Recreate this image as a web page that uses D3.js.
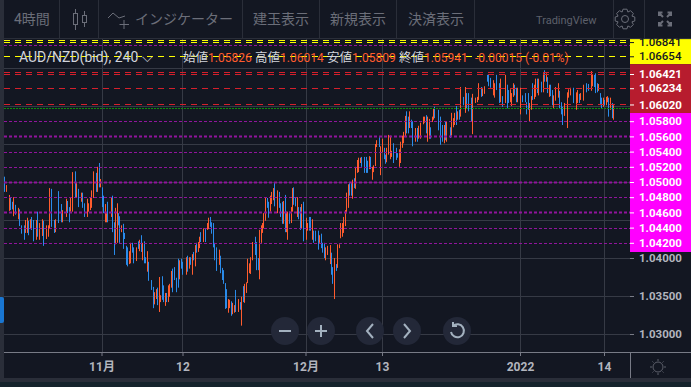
<!DOCTYPE html>
<html>
<head>
<meta charset="utf-8">
<style>
body { margin: 0; background: #15232c; }
text { font-family: Roboto, "Noto Sans CJK JP", sans-serif; }
</style>
</head>
<body>
<svg id="chart" width="691" height="387" style="display:block"></svg>

<script src="https://d3js.org/d3.v7.min.js"></script>
<script>
// 4h session number of each candle, prices are x 10000
let bars = [0,1,3,4,5,6,7,9,10,11,13,14,15,16,17,18,19,21,22,23,
25,26,28,29,30,31,33,34,36,38,39,41,42,43,44,45,47,48,49,51,
52,53,55,56,57,58,59,61,62,63,64,65,66,67,68,69,71,72,73,74,
75,76,77,78,79,80,81,82,83,84,85,86,88,89,90,91,92,93,94,95,
96,98,99,100,101,102,103,104,105,106,107,108,109,110,111,112,113,115,116,117,
118,119,121,122,123,124,125,126,127,128,129,130,131,133,134,135,136,137,138,139,
140,141,143,144,145,146,147,148,149,150,151,152,153,154,156,157,158,159,160,161,
162,163,164,165,167,168,169,170,171,172,173,174,175,176,177,178,179,180,182,183,
184,185,186,187,188,189,190,191,192,193,194,195,196,197,198,199,201,202,203,204,
205,206,207,209,210,211,212,213,214,215,217,218,219,220,221,222,223,224,225,226,
227,228,229,230,231,232,233,234,235,236,237,238,240,241,242,243,244,245,246,247,
248,250,251,252,253,254,255,256,257,258,259,261,262,263,264,265,266,267,268,269,
270,271,272,274,275,276,277,279,280,281,282,283,284,285,286,287,289,291,292,293,
294,295,297,298,299,300,301,302,303,304,306,307,308,309,311,312,314,315,316,318,
319,320,322,323,324,326,327,328,330,331,332,334,335,336,337,338,339,340,341,342,
344,345,347,348,349,350,351,352,353,354,355,356,358,359,360,361,362,363,364,365,
366,367,369,370,371,372,373,375,376,377,379,381,382,383,384,386,388,389,391,392,
393,394,395,396,397,398,399,400,401,402,403,404,405,406]

let highs = [10507,10496,10483,10479,10474,10480,10470,10466,10464,10443,10443,10450,10453,10449,10451,10454,10450,10450,10461,10446,
10451,10449,10443,10443,10492,10491,10450,10451,10488,10471,10463,10478,10475,10467,10479,10513,10514,10500,10491,10486,
10486,10472,10478,10472,10480,10489,10514,10512,10520,10525,10504,10493,10482,10471,10459,10474,10479,10482,10447,10466,
10472,10459,10455,10443,10445,10433,10416,10414,10409,10420,10420,10414,10414,10422,10424,10430,10420,10422,10401,10409,
10395,10371,10362,10355,10359,10361,10375,10351,10376,10364,10354,10354,10364,10366,10383,10386,10388,10374,10399,10397,
10399,10395,10401,10403,10401,10401,10405,10408,10417,10420,10421,10428,10434,10439,10438,10446,10453,10454,10447,10446,
10420,10414,10411,10403,10387,10384,10367,10359,10346,10345,10343,10341,10338,10358,10346,10342,10349,10363,10366,10368,
10399,10393,10401,10421,10428,10421,10400,10437,10443,10446,10459,10480,10479,10474,10482,10487,10492,10499,10489,10487,
10472,10474,10475,10483,10461,10461,10461,10467,10492,10493,10480,10480,10467,10467,10471,10474,10453,10446,10454,10454,
10451,10436,10436,10436,10430,10432,10420,10420,10414,10416,10417,10407,10388,10400,10392,10418,10418,10446,10446,10454,
10463,10486,10497,10499,10499,10503,10505,10520,10529,10532,10532,10533,10533,10533,10528,10534,10533,10520,10522,10550,
10555,10559,10547,10557,10545,10536,10545,10562,10561,10541,10551,10545,10538,10543,10553,10561,10566,10587,10593,10586,
10593,10582,10580,10571,10571,10574,10578,10586,10586,10588,10586,10583,10572,10586,10597,10599,10595,10586,10575,10575,
10579,10579,10572,10591,10584,10591,10600,10593,10595,10625,10612,10625,10617,10617,10611,10616,10611,10612,10630,10625,
10624,10626,10641,10641,10637,10634,10630,10641,10630,10636,10613,10641,10628,10621,10622,10617,10630,10628,10624,10624,
10624,10614,10617,10605,10617,10604,10613,10630,10628,10636,10636,10636,10632,10643,10647,10643,10638,10628,10628,10621,
10614,10625,10630,10620,10605,10599,10604,10618,10622,10624,10624,10618,10621,10616,10617,10628,10630,10629,10646,10641,
10641,10643,10630,10629,10617,10611,10611,10608,10612,10613,10611,10611,10604,10601]

let lows = [10487,10487,10462,10463,10464,10455,10457,10451,10442,10432,10424,10433,10433,10430,10438,10437,10422,10424,10428,10424,
10429,10416,10425,10428,10439,10441,10433,10434,10446,10447,10447,10454,10459,10447,10461,10461,10479,10480,10467,10474,
10466,10454,10454,10461,10463,10466,10479,10487,10487,10493,10493,10467,10459,10447,10447,10447,10454,10434,10404,10418,
10420,10443,10420,10434,10412,10425,10391,10389,10392,10393,10407,10393,10396,10412,10409,10408,10397,10393,10393,10382,
10370,10358,10334,10339,10346,10338,10329,10342,10345,10342,10337,10342,10342,10349,10361,10355,10371,10355,10361,10372,
10386,10378,10378,10382,10386,10391,10378,10397,10389,10407,10408,10413,10421,10421,10421,10437,10438,10441,10432,10414,
10397,10383,10391,10380,10371,10366,10333,10334,10328,10334,10324,10326,10328,10329,10329,10332,10311,10342,10341,10354,
10367,10380,10379,10397,10404,10384,10384,10372,10420,10433,10439,10449,10466,10453,10461,10471,10476,10468,10459,10466,
10454,10445,10445,10434,10434,10424,10445,10446,10461,10470,10468,10454,10451,10437,10439,10422,10424,10436,10436,10436,
10424,10420,10422,10411,10420,10413,10407,10400,10397,10404,10392,10378,10366,10346,10383,10387,10413,10426,10428,10433,
10442,10459,10466,10482,10482,10478,10492,10491,10512,10513,10525,10520,10512,10512,10512,10517,10517,10503,10513,10521,
10546,10546,10509,10539,10530,10524,10526,10536,10530,10533,10525,10529,10532,10520,10525,10545,10551,10559,10564,10564,
10571,10571,10547,10553,10553,10557,10557,10576,10578,10564,10553,10557,10557,10579,10582,10584,10568,10549,10553,10551,
10555,10553,10558,10561,10572,10575,10575,10582,10582,10586,10601,10591,10597,10593,10580,10563,10604,10605,10608,10612,
10613,10616,10632,10626,10624,10614,10611,10621,10604,10605,10599,10604,10597,10604,10605,10600,10612,10614,10605,10605,
10589,10605,10605,10589,10595,10579,10595,10608,10609,10612,10617,10614,10618,10618,10632,10632,10617,10612,10613,10601,
10597,10607,10611,10597,10589,10575,10587,10571,10611,10614,10604,10595,10604,10604,10608,10607,10618,10620,10620,10626,
10625,10617,10618,10620,10601,10597,10599,10601,10601,10605,10586,10595,10584,10582]

let opens = [10488,10495,10480,10464,10466,10475,10459,10464,10445,10434,10429,10447,10451,10433,10450,10439,10424,10446,10433,10441,
10447,10425,10441,10439,10491,10446,10436,10449,10449,10450,10462,10463,10461,10449,10476,10509,10482,10497,10472,10484,
10468,10457,10471,10470,10472,10487,10511,10495,10517,10497,10503,10470,10462,10468,10458,10450,10476,10437,10410,10463,
10470,10445,10424,10442,10420,10426,10393,10392,10407,10416,10408,10396,10412,10413,10421,10409,10418,10405,10395,10407,
10372,10359,10336,10353,10357,10341,10372,10350,10349,10345,10351,10343,10362,10363,10380,10358,10374,10358,10368,10395,
10387,10380,10399,10384,10399,10392,10403,10399,10414,10408,10418,10425,10424,10437,10424,10445,10451,10442,10434,10418,
10399,10386,10408,10382,10372,10367,10336,10336,10345,10343,10326,10339,10337,10332,10345,10334,10345,10343,10362,10366,
10397,10392,10399,10420,10408,10405,10386,10433,10441,10445,10458,10479,10467,10455,10480,10484,10491,10471,10487,10468,
10457,10447,10472,10437,10459,10459,10447,10464,10489,10472,10470,10479,10453,10439,10468,10425,10450,10445,10439,10438,
10450,10422,10424,10413,10429,10416,10408,10401,10413,10414,10414,10380,10367,10397,10384,10414,10417,10443,10443,10451,
10462,10484,10495,10483,10484,10500,10493,10514,10528,10530,10530,10521,10514,10513,10514,10532,10518,10518,10521,10547,
10553,10547,10545,10555,10532,10526,10543,10559,10559,10539,10530,10530,10533,10542,10550,10559,10564,10584,10566,10566,
10591,10572,10550,10568,10555,10571,10575,10584,10584,10570,10584,10580,10559,10584,10595,10586,10575,10555,10555,10572,
10557,10576,10559,10588,10583,10588,10578,10592,10583,10622,10603,10621,10600,10597,10584,10613,10609,10611,10628,10613,
10622,10625,10633,10628,10625,10633,10628,10624,10608,10633,10600,10639,10600,10605,10620,10614,10628,10616,10608,10621,
10620,10607,10607,10592,10597,10601,10611,10611,10625,10632,10620,10633,10620,10639,10633,10641,10620,10625,10614,10604,
10612,10622,10628,10600,10591,10579,10601,10616,10621,10622,10607,10616,10618,10605,10616,10625,10620,10621,10643,10639,
10626,10621,10620,10628,10603,10599,10609,10603,10611,10612,10588,10609,10587,10599]

let closes = [10505,10488,10464,10478,10472,10458,10467,10453,10462,10442,10441,10434,10436,10446,10441,10451,10447,10426,10455,10428,
10433,10445,10428,10432,10445,10489,10447,10437,10471,10464,10450,10455,10472,10462,10463,10463,10511,10483,10486,10475,
10482,10470,10458,10463,10466,10471,10487,10509,10500,10522,10496,10491,10479,10450,10449,10472,10458,10479,10445,10420,
10440,10457,10450,10436,10442,10432,10413,10411,10395,10396,10418,10412,10399,10421,10411,10425,10400,10420,10400,10387,
10393,10370,10359,10342,10349,10358,10333,10343,10372,10361,10339,10353,10346,10353,10363,10383,10386,10371,10397,10375,
10397,10392,10382,10400,10388,10400,10383,10407,10395,10418,10411,10416,10432,10424,10436,10438,10439,10453,10445,10443,
10418,10408,10395,10400,10386,10382,10364,10357,10330,10336,10341,10329,10329,10351,10332,10341,10330,10361,10345,10355,
10370,10382,10383,10400,10426,10420,10399,10400,10424,10434,10441,10451,10478,10471,10463,10472,10479,10495,10463,10484,
10470,10472,10449,10480,10437,10433,10459,10449,10463,10491,10479,10457,10466,10464,10441,10468,10437,10437,10451,10453,
10430,10434,10434,10433,10421,10429,10418,10418,10400,10405,10395,10404,10386,10375,10391,10392,10414,10429,10430,10436,
10445,10462,10470,10497,10496,10480,10504,10493,10514,10514,10526,10532,10532,10530,10526,10518,10530,10505,10514,10522,
10547,10557,10534,10541,10543,10533,10529,10539,10533,10534,10549,10543,10537,10524,10529,10546,10553,10561,10589,10575,
10572,10580,10578,10555,10568,10559,10560,10578,10579,10586,10566,10560,10571,10580,10583,10597,10592,10580,10572,10553,
10576,10555,10571,10564,10574,10576,10597,10583,10592,10590,10611,10595,10614,10614,10608,10579,10605,10607,10611,10624,
10614,10618,10639,10639,10636,10617,10613,10637,10628,10608,10612,10608,10625,10618,10607,10603,10613,10626,10621,10608,
10604,10613,10614,10604,10614,10583,10597,10628,10611,10614,10633,10617,10630,10620,10643,10633,10636,10613,10625,10618,
10600,10609,10613,10617,10604,10596,10589,10587,10613,10616,10621,10604,10605,10613,10609,10609,10629,10628,10622,10628,
10639,10639,10629,10621,10616,10609,10600,10607,10603,10607,10609,10597,10601,10584]

let timeTickBars = [65,119,201,252,344,400]
let timeTickLabels = ["11月","12","12月","13","2022","14"]
let gridPrices = [1.03,1.035,1.04,1.045,1.05,1.055,1.06,1.065]
let yellowLevels = [1.06841,1.06654]
let redLevels = [1.06421,1.06234,1.0602]
let purpleLevels = [1.058,1.056,1.054,1.052,1.05,1.048,1.046,1.044,1.042]
let boldPurple = [1.056,1.05,1.046]
let plainLevels = [1.04,1.035,1.03]
let extraYellow = [1.06867]
let extraRed = [1.06447]
let extraPurple = [1.06803]
let greenLevel = [1.05968]

let menuItems = ["4時間","インジケーター","建玉表示","新規表示","決済表示"]
let menuX = [14,135,253,330,408]
let menuDividers = [59,98,242,319,396,474,613,644]

let svg = d3.select("#chart")
let paneLeft = 4, paneRight = 630, paneTop = 39, paneBottom = 352

let x = d3.scaleLinear().domain([0,406]).range([4,613])
let y = d3.scaleLinear().domain([1.03,1.065]).range([334,68])

let up = "#2a8bea", down = "#ff5c2e"

svg.append("rect").attr("width",691).attr("height",382).attr("fill","#131722")
svg.append("rect").attr("width",4).attr("height",382).attr("fill","#2a2e39")
svg.append("rect").attr("y",378).attr("width",691).attr("height",4).attr("fill","#2a2e39")

// toolbar
let toolbar = svg.append("g")
toolbar.append("line").attr("x1",4).attr("x2",691).attr("y1",38.5).attr("y2",38.5).attr("stroke","#2a2e39")
toolbar.selectAll(".div").data(menuDividers).enter().append("line")
    .attr("x1",d=>d+0.5).attr("x2",d=>d+0.5).attr("y1",0).attr("y2",38).attr("stroke","#2a2e39")
toolbar.selectAll(".menu").data(menuItems).enter().append("text")
    .attr("x",(d,i)=>menuX[i]).attr("y",24).attr("font-size",14).attr("fill","#6b6e79").text(d=>d)
toolbar.append("text").attr("x",536).attr("y",24).attr("font-size",11).attr("fill","#5d606b").text("TradingView")

let iconColor = "#6b6e79"
let candleIcon = toolbar.append("g").attr("fill","none").attr("stroke",iconColor)
candleIcon.append("rect").attr("x",73.5).attr("y",13.5).attr("width",4).attr("height",11)
candleIcon.append("path").attr("d","M75.5 9V13M75.5 25V30")
candleIcon.append("rect").attr("x",82.5).attr("y",15.5).attr("width",4).attr("height",7)
candleIcon.append("path").attr("d","M84.5 11V15M84.5 23V27")
toolbar.append("path").attr("fill","none").attr("stroke",iconColor)
    .attr("d","M108 18L113 13L119 18L125 16M124 20V29M119.5 24.5H129")
let gear = toolbar.append("g").attr("transform","translate(625,19)").attr("fill","none").attr("stroke",iconColor)
gear.append("circle").attr("r",3.5)
gear.append("path").attr("d",d3.range(8).map(i=>{
    let a0=i*Math.PI/4-0.2, a1=i*Math.PI/4+0.2, a2=i*Math.PI/4+Math.PI/8
    return (i?"L":"M")+(10*Math.cos(a0))+" "+(10*Math.sin(a0))+"L"+(10*Math.cos(a1))+" "+(10*Math.sin(a1))+"L"+(7.5*Math.cos(a2))+" "+(7.5*Math.sin(a2))
}).join("")+"Z")
toolbar.append("path").attr("fill","none").attr("stroke",iconColor).attr("stroke-width",2)
    .attr("d","M659 13L663 17M659 16V12.5H662.5M671 13L667 17M671 16V12.5H667.5M659 25L663 21M659 22V25.5H662.5M671 25L667 21M671 22V25.5H667.5")

// grid
let grid = svg.append("g").attr("stroke","#363a45")
grid.selectAll(".h").data(gridPrices).enter().append("line")
    .attr("x1",paneLeft).attr("x2",paneRight).attr("y1",d=>Math.round(y(d))+0.5).attr("y2",d=>Math.round(y(d))+0.5)
grid.selectAll(".v").data(timeTickBars).enter().append("line")
    .attr("x1",d=>Math.round(x(d))+0.5).attr("x2",d=>Math.round(x(d))+0.5).attr("y1",paneTop).attr("y2",paneBottom)

// candles, at this zoom a body is one pixel wide like its wick
let candles = svg.append("g").selectAll("g").data(d3.range(bars.length)).enter().append("g")
    .attr("fill",i=>closes[i]>=opens[i]?up:down)
candles.append("rect")
    .attr("x",i=>Math.round(x(bars[i])))
    .attr("width",1)
    .attr("y",i=>y(highs[i]/10000))
    .attr("height",i=>y(lows[i]/10000)-y(highs[i]/10000))

// horizontal levels over the candles
function level(values,color,dash,width) {
    svg.append("g").selectAll("line").data(values).enter().append("line")
        .attr("x1",paneLeft).attr("x2",paneRight)
        .attr("y1",d=>Math.round(y(d))+0.5).attr("y2",d=>Math.round(y(d))+0.5)
        .attr("stroke",color).attr("stroke-dasharray",dash).attr("stroke-width",width)
}
level(yellowLevels.concat(extraYellow),"#ffff00","6,5",1)
level(redLevels.concat(extraRed),"#d5202c","6,5",1)
level(purpleLevels.concat(extraPurple),"#91149c","3,2",1)
level(boldPurple,"#91149c","3,2",2)
level(greenLevel,"#0d8a0d","2,1",1)

// legend
let legend = svg.append("g")
let legendParts = [
    [19,"AUD/NZD(bid), 240 ⌵","#d1d4dc",14],[183,"始値","#d1d4dc",12.5],[208,"1.05826",down,12],[255,"高値","#d1d4dc",12.5],
    [280,"1.06014",down,12],[327,"安値","#d1d4dc",12.5],[352,"1.05809",down,12],[399,"終値","#d1d4dc",12.5],[424,"1.05941",down,12],
    [475,"-0.00015",down,12],[525,"(-0.01%)",down,12]]
legend.selectAll("text").data(legendParts).enter().append("text")
    .attr("x",d=>d[0]).attr("y",62).attr("fill",d=>d[2]).attr("font-size",d=>d[3]).text(d=>d[1])

// price scale
let scale = svg.append("g")
scale.append("rect").attr("x",630).attr("y",39).attr("width",61).attr("height",313).attr("fill","#131722")
let bands = [[1.0688,1.0655,"#ffff00"],[1.0655,1.05908,"#b71c2e"],[1.05908,1.04079,"#ff00ff"]]
scale.selectAll(".band").data(bands).enter().append("rect")
    .attr("x",630).attr("width",61).attr("y",d=>y(d[0])).attr("height",d=>y(d[1])-y(d[0])).attr("fill",d=>d[2])

function priceAxis(values,color,weight) {
    let g = svg.append("g").attr("transform","translate(630,0)")
        .call(d3.axisRight(y).tickValues(values).tickFormat(d3.format(".5f")).tickSize(4).tickPadding(5))
    g.select(".domain").remove()
    g.selectAll("line").attr("stroke",color==="#131722"?"#131722":"#ffffff")
    g.selectAll("text").attr("fill",color).attr("font-size",11.5).attr("font-weight",weight)
        .attr("font-family","Roboto, sans-serif")
    return g
}
priceAxis(yellowLevels,"#131722",500)
priceAxis(redLevels,"#ffffff",700)
priceAxis(purpleLevels,"#ffffff",700)
priceAxis(plainLevels,"#b2b5be",700).selectAll("line").attr("stroke","#787b86")

// time axis
svg.append("line").attr("x1",4).attr("x2",691).attr("y1",352.5).attr("y2",352.5).attr("stroke","#787b86")
svg.append("line").attr("x1",630.5).attr("x2",630.5).attr("y1",352).attr("y2",378).attr("stroke","#787b86")
let timeAxis = svg.append("g").attr("transform","translate(0,352)")
    .call(d3.axisBottom(x).tickValues(timeTickBars).tickFormat((d,i)=>timeTickLabels[i]).tickSize(4).tickPadding(6))
timeAxis.select(".domain").remove()
timeAxis.selectAll("line").attr("stroke","#787b86")
timeAxis.selectAll("text").attr("fill","#b2b5be").attr("font-size",12).attr("font-weight",700)
    .attr("font-family","Roboto, 'Noto Sans CJK JP', sans-serif")

// sun icon
let sun = svg.append("g").attr("transform","translate(658,367)").attr("fill","none").attr("stroke","#5d606b")
sun.append("circle").attr("r",5)
sun.append("path").attr("d","M0 -8V-6M0 8V6M-8 0H-6M8 0H6M-5.5 -5.5L-4.5 -4.5M5.5 5.5L4.5 4.5M-5.5 5.5L-4.5 4.5M5.5 -5.5L4.5 -4.5")

// nav buttons
let navX = [285,321,370,407,457]
let navIcons = ["M-6 0H6","M-6 0H6M0 -6V6","M3 -7L-3 0L3 7","M-3 -7L3 0L-3 7","M-4 -5A6.5 6.5 0 1 1 -6 1M-4 -9V-5H0"]
let nav = svg.append("g").selectAll("g").data(navX).enter().append("g")
    .attr("transform",d=>"translate("+d+",331)")
nav.append("circle").attr("r",14).attr("fill","#232838")
nav.append("path").attr("d",(d,i)=>navIcons[i]).attr("fill","none").attr("stroke","#a3b1bf").attr("stroke-width",2)

// blue tab on the left
svg.append("path").attr("d","M0 297H2Q4 297 4 299V321Q4 323 2 323H0Z").attr("fill","#1976d2")
</script>
</body>
</html>
